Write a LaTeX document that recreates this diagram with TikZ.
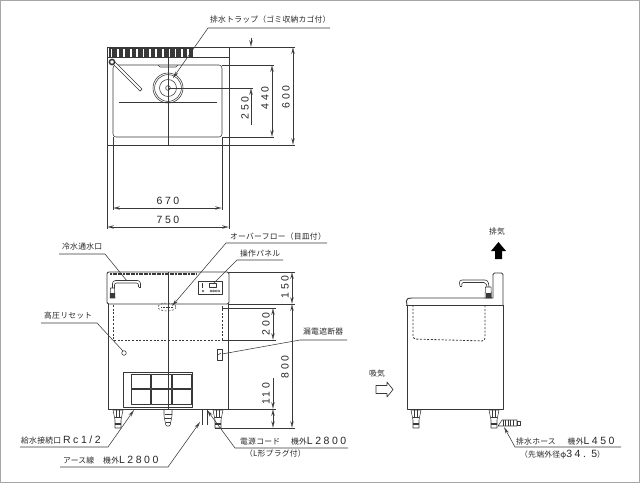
\documentclass[tikz,border=0pt]{standalone}
\usepackage{fontspec}
\usetikzlibrary{arrows.meta}
\newfontfamily\jpfont[LetterSpace=3]{Noto Sans CJK JP}
\newfontfamily\numfont[LetterSpace=24]{Liberation Sans}
\definecolor{inkline}{gray}{0.22}
\newcommand{\jl}[1]{{\fontsize{7.8}{9}\jpfont #1}}
\newcommand{\nm}[1]{{\fontsize{10.5}{12}\numfont #1}}
\tikzset{
	outline/.style={draw=inkline,line width=0.9pt},
	thinline/.style={draw=inkline,line width=0.55pt},
	hidden/.style={draw=inkline,line width=0.8pt,dash pattern=on 2pt off 1.6pt},
	dimline/.style={draw=inkline,line width=0.5pt,<->},
	extline/.style={draw=inkline,line width=0.5pt},
	leaderline/.style={draw=inkline,line width=0.55pt},
	tiptoline/.style={leaderline,->},
	dimtext/.style={inner sep=0pt,text=black!85},
	labeltext/.style={inner sep=0pt,anchor=west,text=black!85},
}
\begin{document}
\begin{tikzpicture}[x=1pt,y=-1pt,>={Stealth[open,length=7pt,width=3.4pt]},line join=round,line cap=butt]
	\useasboundingbox (0,0) rectangle (640,483);
	\draw [gray!70,line width=1pt] (0.5,0.5) rectangle (639.5,482.5);
	\path (168,88) coordinate (D);

	% plan view
	\draw [outline] (107,47) rectangle (229,145);
	\draw [thinline] (107,57)--(229,57);
	\fill [inkline] (109,48) rectangle (193,57);
	\foreach \x in {0,...,12}{
		\fill [white] ({110.5+\x*6.4},48.5) rectangle ({112.3+\x*6.4},56.5);
	}
	\draw [thinline,rounded corners=3pt] (113,65) rectangle (222,137);
	\draw [thinline] (119,102)--(217,102);
	\draw [thinline] (158,65)--(160,67)--(176,67)--(178,65);
	\foreach \r in {15,13.4,8.5}{
		\draw [thinline] (D) circle (\r);
	}
	\draw [thinline] (D) circle (2.4);
	\draw [thinline,fill=white,line width=0.7pt] (113,64)--(140,91)--(142,89)--(115,62)--cycle;
	\draw [outline,fill=white,line width=1.5pt] (112,62) circle (2.6);
	\draw [extline] (168,47)--(168,145);
	\draw [extline] (168,88)--(253,88);
	\draw [extline] (222,65)--(274,65);
	\draw [extline] (222,137)--(274,137);
	\draw [extline] (229,47)--(295,47);
	\draw [extline] (229,145)--(295,145);
	\draw [extline] (113,137)--(113,210);
	\draw [extline] (222,137)--(222,210);
	\draw [extline] (107,145)--(107,229);
	\draw [extline] (229,145)--(229,229);
	\draw [dimline] (113,208)--(222,208);
	\draw [dimline] (107,227)--(229,227);
	\draw [dimline] (272,65)--(272,137);
	\draw [dimline] (293,47)--(293,145);
	\draw [extline,->] (251,38)--(251,47);
	\draw [extline,->] (251,125)--(251,88);
	\node [dimtext] (dim670) at (168,201) {\nm{670}};
	\node [dimtext] (dim750) at (168,220) {\nm{750}};
	\node [dimtext,rotate=90] (dim250) at (245,108) {\nm{250}};
	\node [dimtext,rotate=90] (dim440) at (265,98) {\nm{440}};
	\node [dimtext,rotate=90] (dim600) at (286,97) {\nm{600}};

	% front view
	\draw [outline,rounded corners=2pt] (107,304)--(107,272)--(229,272)--(229,304)--cycle;
	\draw [outline] (108,304)--(108,409);
	\draw [outline] (228,304)--(228,409);
	\draw [outline] (108,409)--(228,409);
	\draw [line width=1.6pt,inkline,dash pattern=on 2pt off 0.6pt] (110,274)--(197,274);
	\draw [hidden] (113,305)--(113,340)--(222,340)--(222,305);
	\draw [extline] (168,272)--(168,409);
	\draw [thinline,fill=white] (110,298)--(110.5,288)--(114.5,288)--(115,298)--cycle;
	\draw [line width=0.6pt,inkline,rounded corners=3pt] (112.5,288)--(112.5,280.5)--(140.5,280.5)--(140.5,287);
	\draw [line width=0.6pt,inkline,rounded corners=2pt] (114.5,288)--(114.5,283)--(138.5,283)--(138.5,287);
	\draw [thinline] (138.5,287)--(140.5,287);
	\fill [inkline] (110,293) rectangle (115,298);
	\draw [hidden,line width=0.5pt] (167,307) ellipse (9 and 4);
	\draw [thinline,dash pattern=on 1pt off 0.6pt,line width=1pt] (161,307)--(173,307);
	\draw [outline,line width=0.7pt] (198,281) rectangle (222,294);
	\draw [thinline] (209,283) rectangle (216,287);
	\draw [line width=1pt,inkline] (202,283)--(202,288);
	\foreach \x in {203,211,213.6,216.2,218.8}{
		\draw [line width=0.4pt,inkline] (\x,291) circle (1.1);
	}
	\draw [thinline] (124,353) circle (2.3);
	\draw [outline,line width=0.7pt] (217,349) rectangle (222,360);
	\draw [thinline] (218,355)--(221,353);
	\draw [outline] (123,372) rectangle (192,407);
	\foreach \x in {131,151.5,172}{
		\foreach \y in {374,389.5}{
			\draw [thinline,line width=0.8pt] (\x,\y) rectangle ({\x+19.5},{\y+14.5});
		}
	}
	\foreach \x in {113,213}{
		\draw [thinline,shift={(\x,0)}] (0,410)--(10,410)--(8,420)--(8,428)--(2,428)--(2,420)--cycle;
		\draw [thinline,shift={(\x,0)}] (2,417)--(8,417) (3.5,410)--(3.5,417) (6.5,410)--(6.5,417);
		\fill [inkline,shift={(\x,0)}] (2,423) rectangle (8,425);
	}
	\draw [thinline,rounded corners=1pt] (164,410)--(164,416)--(166,426)--(170,426)--(172,416)--(172,410);
	\draw [thinline] (164.5,414)--(171.5,414) (165,418)--(171,418) (165.5,422)--(170.5,422);
	\draw [thinline] (202,410)--(202,425);
	\draw [thinline] (207,410)--(207,425);
	% front dimensions
	\draw [extline] (229,272)--(295,272);
	\draw [extline] (229,304)--(295,304);
	\draw [extline] (222,308)--(276,308);
	\draw [extline] (222,340)--(276,340);
	\draw [extline] (228,409)--(276,409);
	\draw [extline] (215,428)--(295,428);
	\draw [dimline] (292,272)--(292,304);
	\draw [dimline] (292,304)--(292,428);
	\draw [dimline] (273,308)--(273,340);
	\draw [extline,<-] (273,409)--(273,378);
	\draw [extline,<->] (273,409)--(273,428);
	\node [dimtext,rotate=90] (dim150) at (285,287) {\nm{150}};
	\node [dimtext,rotate=90] (dim200) at (266,324) {\nm{200}};
	\node [dimtext,rotate=90] (dim800) at (285,367) {\nm{800}};
	\node [dimtext,rotate=90] (dim110) at (266,394) {\nm{110}};

	% side view
	\draw [outline,rounded corners=2pt] (407,305)--(406,299)--(410,298)--(493,298);
	\draw [outline] (406,305)--(503,305);
	\draw [outline,rounded corners=1.5pt] (493,298)--(493,273)--(503,273)--(503,305);
	\draw [outline] (407,305)--(407,409)--(503,409)--(503,305);
	\draw [hidden,rounded corners=3pt] (413,305)--(413,339)--(485,341)--(485,305);
	\draw [thinline,fill=white] (485,298)--(485.5,287)--(491,287)--(491.5,298)--cycle;
	\fill [inkline] (486,293) rectangle (491,298);
	\draw [line width=0.6pt,inkline,rounded corners=3pt] (460,286)--(459,280)--(488,280)--(489,287);
	\draw [line width=0.6pt,inkline,rounded corners=2pt] (462,286)--(461.5,282.5)--(486,282.5)--(487,287);
	\draw [thinline] (460,286)--(462,286);
	\foreach \x in {411,489}{
		\draw [thinline,shift={(\x,0)}] (0,410)--(10,410)--(8,420)--(8,428)--(2,428)--(2,420)--cycle;
		\draw [thinline,shift={(\x,0)}] (2,417)--(8,417) (3.5,410)--(3.5,417) (6.5,410)--(6.5,417);
		\fill [inkline,shift={(\x,0)}] (2,423) rectangle (8,425);
	}
	\draw [thinline] (498,426)--(502,420)--(517,420)--(517,426)--cycle;
	\foreach \x in {503,505.5,508,510.5,513}{
		\draw [thinline] (\x,420)--(\x,426);
	}
	\draw [thinline] (517,421) rectangle (520,425);
	\draw [inkline,line width=0.7pt] (376,385.5)--(387,385.5)--(387,382)--(393,389.5)--(387,397)--(387,393.5)--(376,393.5)--cycle;
	\fill [black] (498.5,242)--(506,251)--(502,251)--(502,259)--(495,259)--(495,251)--(491,251)--cycle;
	\node [dimtext] (intakeLabel) at (377,374) {\jl{吸気}};
	\node [dimtext] (exhaustLabel) at (497,232) {\jl{排気}};

	% leaders and their labels
	\path (330,28) coordinate (trapEnd) (208,28) coordinate (trapKnee) (173,78) coordinate (trapTip)
	(59,254) coordinate (coldEnd) (105,254) coordinate (coldKnee) (127,281) coordinate (coldTip)
	(41,323) coordinate (resetEnd) (97,323) coordinate (resetKnee) (123,351) coordinate (resetTip)
	(327,243) coordinate (overEnd) (226,243) coordinate (overKnee) (172,306) coordinate (overTip)
	(283,260) coordinate (panelEnd) (237,260) coordinate (panelKnee) (213,284) coordinate (panelTip)
	(347,340) coordinate (leakEnd) (300,340) coordinate (leakKnee) (222,354) coordinate (leakTip)
	(20,447) coordinate (supplyEnd) (108,447) coordinate (supplyKnee) (134,410) coordinate (supplyTip)
	(60,467) coordinate (earthEnd) (168,467) coordinate (earthKnee) (200,422) coordinate (earthTip)
	(348,448) coordinate (cordEnd) (235,448) coordinate (cordKnee) (207,410) coordinate (cordTip)
	(621,447) coordinate (hoseEnd) (515,447) coordinate (hoseKnee) (504,427) coordinate (hoseTip);
	\draw [tiptoline] (trapEnd)--(trapKnee)--(trapTip);
	\draw [leaderline] (coldEnd)--(coldKnee)--(coldTip);
	\draw [leaderline] (resetEnd)--(resetKnee)--(resetTip);
	\draw [tiptoline] (overEnd)--(overKnee)--(overTip);
	\draw [leaderline] (panelEnd)--(panelKnee)--(panelTip);
	\draw [leaderline] (leakEnd)--(leakKnee)--(leakTip);
	\draw [tiptoline] (supplyEnd)--(supplyKnee)--(supplyTip);
	\draw [tiptoline] (earthEnd)--(earthKnee)--(earthTip);
	\draw [tiptoline] (cordEnd)--(cordKnee)--(cordTip);
	\draw [tiptoline] (hoseEnd)--(hoseKnee)--(hoseTip);
	\node [labeltext] (trapLabel) at (210,20) {\jl{排水トラップ（ゴミ収納カゴ付）}};
	\node [labeltext] (coldLabel) at (62,247) {\jl{冷水通水口}};
	\node [labeltext] (resetLabel) at (44,316) {\jl{高圧リセット}};
	\node [labeltext] (overLabel) at (230,237) {\jl{オーバーフロー（目皿付）}};
	\node [labeltext] (panelLabel) at (240,254) {\jl{操作パネル}};
	\node [labeltext] (leakLabel) at (303,332) {\jl{漏電遮断器}};
	\node [labeltext] (supplyLabel) at (21,440) {\jl{給水接続口}\hspace{2pt}\nm{Rc1/2}};
	\node [labeltext] (earthLabel) at (63,460) {\jl{アース線}\hspace{9pt}\jl{機外}\nm{L2800}};
	\node [labeltext] (cordLabel) at (240,441) {\jl{電源コード}\hspace{11pt}\jl{機外}\nm{L2800}};
	\node [labeltext] (plugLabel) at (245,454) {\jl{（L形プラグ付）}};
	\node [labeltext] (hoseLabel) at (516,441) {\jl{排水ホース}\hspace{12pt}\jl{機外}\nm{L450}};
	\node [labeltext] (tipLabel) at (520,455) {\jl{（先端外径φ}\nm{34.\ 5}\jl{）}};
\end{tikzpicture}
\end{document}
